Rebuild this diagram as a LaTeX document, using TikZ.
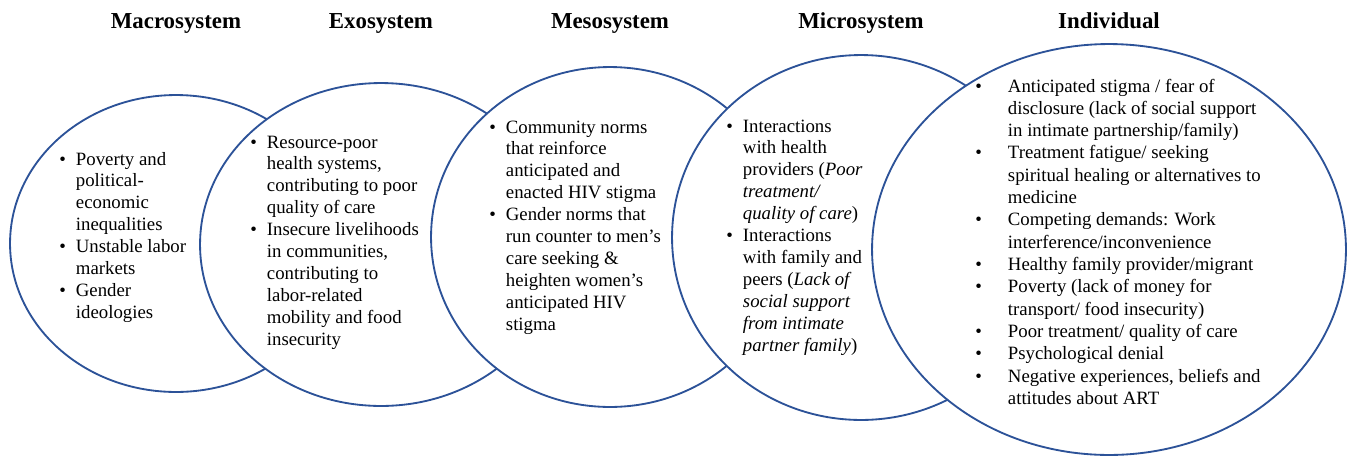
\documentclass[tikz,border=0pt]{standalone}
\usepackage{fontspec}
\setmainfont{Liberation Serif}
\usetikzlibrary{shapes.geometric}
\definecolor{ringblue}{RGB}{44,82,152}

% bullet list: #1 = gap between bullet and text, #2 = rows
\newcommand{\bulletlist}[2]{\begin{tabular}[t]{@{}l@{\hspace{#1}}l@{}}#2\end{tabular}}

\begin{document}
\begin{tikzpicture}[x=0.02cm, y=-0.02cm,
	ring/.style = {ellipse,
		draw=ringblue,
		line width=1.05pt,
		fill=white,
		inner sep=0pt},
	title/.style = {font=\fontsize{13}{15}\selectfont\bfseries, anchor=base},
	blurb/.style = {font=\fontsize{10.7}{12.5}\selectfont, anchor=base west, inner sep=0pt}]

	\useasboundingbox (0,0) rectangle (1351,457);

	% Rings, left to right (each one covers the one before)
	\node[ring, minimum width=6.64cm, minimum height=5.94cm] (macro) at (176,243.5) {};
	\node[ring, minimum width=7.24cm, minimum height=6.46cm] (exo) at (381,244.5) {};
	\node[ring, minimum width=7.16cm, minimum height=6.8cm] (meso) at (610,237) {};
	\node[ring, minimum width=7.56cm, minimum height=7.3cm] (micro) at (861,237.5) {};
	\node[ring, minimum width=9.48cm, minimum height=8.22cm] (indiv) at (1109,249.5) {};

	% Titles
	\node[title] (macrotitle) at (macro |- 0,28) {Macrosystem};
	\node[title] (exotitle) at (exo |- 0,28) {Exosystem};
	\node[title] (mesotitle) at (meso |- 0,28) {Mesosystem};
	\node[title] (microtitle) at (micro |- 0,28) {Microsystem};
	\node[title] (indivtitle) at (indiv |- 0,28) {Individual};

	% Macrosystem
	\node[blurb] (macrotxt) at (59,165) {\bulletlist{0.2cm}{
		\textbullet & Poverty and\\
		 & political-\\
		 & economic\\
		 & inequalities\\
		\textbullet & Unstable labor\\
		 & markets\\
		\textbullet & Gender\\
		 & ideologies}};

	% Exosystem
	\node[blurb] (exotxt) at (250,148) {\bulletlist{0.2cm}{
		\textbullet & Resource-poor\\
		 & health systems,\\
		 & contributing to poor\\
		 & quality of care\\
		\textbullet & Insecure livelihoods\\
		 & in communities,\\
		 & contributing to\\
		 & labor-related\\
		 & mobility and food\\
		 & insecurity}};

	% Mesosystem
	\node[blurb] (mesotxt) at (489,133) {\bulletlist{0.2cm}{
		\textbullet & Community norms\\
		 & that reinforce\\
		 & anticipated and\\
		 & enacted HIV stigma\\
		\textbullet & Gender norms that\\
		 & run counter to men’s\\
		 & care seeking \&\\
		 & heighten women’s\\
		 & anticipated HIV\\
		 & stigma}};

	% Microsystem
	\node[blurb] (microtxt) at (726,132) {\bulletlist{0.2cm}{
		\textbullet & Interactions\\
		 & with health\\
		 & providers (\textit{Poor}\\
		 & \textit{treatment/}\\
		 & \textit{quality of care})\\
		\textbullet & Interactions\\
		 & with family and\\
		 & peers (\textit{Lack of}\\
		 & \textit{social support}\\
		 & \textit{from intimate}\\
		 & \textit{partner family})}};

	% Individual
	\node[blurb, font=\fontsize{10.7}{12.7}\selectfont] (indivtxt) at (975,92) {\bulletlist{0.52cm}{
		\textbullet & Anticipated stigma / fear of\\
		 & disclosure (lack of social support\\
		 & in intimate partnership/family)\\
		\textbullet & Treatment fatigue/ seeking\\
		 & spiritual healing or alternatives to\\
		 & medicine\\
		\textbullet & Competing demands: Work\\
		 & interference/inconvenience\\
		\textbullet & Healthy family provider/migrant\\
		\textbullet & Poverty (lack of money for\\
		 & transport/ food insecurity)\\
		\textbullet & Poor treatment/ quality of care\\
		\textbullet & Psychological denial\\
		\textbullet & Negative experiences, beliefs and\\
		 & attitudes about ART}};

\end{tikzpicture}
\end{document}
